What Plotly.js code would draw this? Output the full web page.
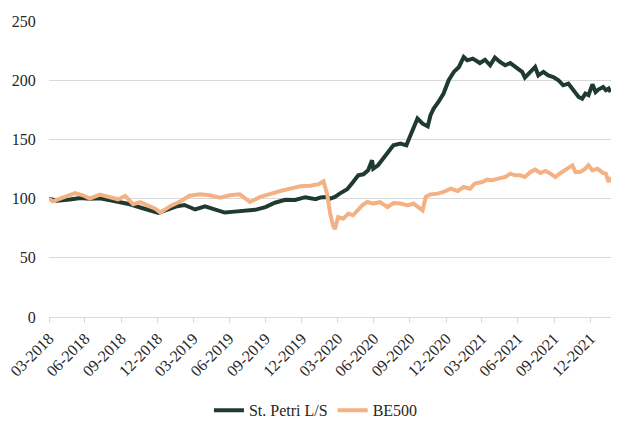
<!DOCTYPE html>
<html>
<head>
<meta charset="utf-8">
<script src="https://cdn.plot.ly/plotly-3.0.1.min.js"></script>
<style>
  html, body { margin: 0; padding: 0; background: #ffffff; }
  #chart { width: 618px; height: 423px; }
</style>
</head>
<body>
<div id="chart"></div>
<script>
// St. Petri L/S
var datesSP = [
  '2018-03-31','2018-04-20','2018-05-23','2018-06-18','2018-07-12','2018-08-07','2018-09-02','2018-09-28',
  '2018-10-22','2018-11-17','2018-12-12','2019-01-02','2019-01-20','2019-02-15','2019-03-09','2019-04-05',
  '2019-04-30','2019-05-25','2019-06-19','2019-07-14','2019-08-09','2019-09-04','2019-09-30','2019-10-24',
  '2019-11-19','2019-12-14','2020-01-09','2020-02-04','2020-02-17','2020-02-29','2020-03-12','2020-03-24',
  '2020-04-06','2020-04-24','2020-05-09','2020-05-22','2020-06-04','2020-06-16','2020-06-26','2020-06-29',
  '2020-07-11','2020-07-24','2020-08-06','2020-08-19','2020-09-06','2020-09-21','2020-09-26','2020-10-09',
  '2020-10-19','2020-11-01','2020-11-14','2020-11-21','2020-11-29','2020-12-11','2020-12-24','2021-01-06',
  '2021-01-19','2021-02-01','2021-02-13','2021-02-22','2021-03-08','2021-03-26','2021-04-08','2021-04-21',
  '2021-05-03','2021-05-16','2021-05-29','2021-06-11','2021-06-28','2021-07-11','2021-07-18','2021-08-01',
  '2021-08-13','2021-08-21','2021-09-03','2021-09-15','2021-09-28','2021-10-11','2021-10-23','2021-11-05',
  '2021-11-18','2021-12-01','2021-12-10','2021-12-18','2021-12-26','2022-01-05','2022-01-13','2022-01-20',
  '2022-02-01','2022-02-08','2022-02-15','2022-02-20'
];
var valuesSP = [
  100, 98.3, 99.2, 100.5, 99.8, 100.3, 98.6, 97.1,
  95.2, 92.5, 89.8, 88.0, 90.1, 93.3, 94.6, 90.8,
  93.5, 90.5, 88.2, 89.0, 89.8, 90.5, 92.8, 96.5,
  99.0, 98.8, 101.2, 99.5, 101.0, 101.4, 100.0, 101.4,
  104.4, 107.9, 114.0, 119.7, 120.5, 123.9, 132.4, 125.3,
  128.1, 133.8, 139.4, 145.0, 146.5, 145.0, 149.2, 160.5,
  167.6, 163.3, 161.0, 170.4, 176.0, 181.6, 188.7, 200.0,
  207.0, 211.2, 219.6, 216.8, 218.2, 214.5, 217.3, 212.6,
  219.1, 215.4, 212.6, 214.5, 209.8, 207.0, 202.2, 207.0,
  211.2, 204.1, 207.0, 204.1, 202.7, 200.0, 195.7, 197.1,
  191.5, 185.8, 184.4, 188.7, 187.3, 196.5, 190.0, 192.1,
  194.3, 191.5, 192.9, 190.0
];

// BE500
var datesBE = [
  '2018-03-31','2018-04-10','2018-04-28','2018-05-23','2018-06-05','2018-06-25','2018-07-12','2018-08-07',
  '2018-09-02','2018-09-22','2018-10-10','2018-10-30','2018-11-17','2018-12-07','2018-12-25','2019-01-07',
  '2019-02-02','2019-02-27','2019-03-22','2019-04-17','2019-05-12','2019-06-07','2019-07-02','2019-07-27',
  '2019-08-22','2019-09-17','2019-10-12','2019-11-07','2019-12-02','2019-12-27','2020-01-22','2020-02-12',
  '2020-02-24','2020-03-04','2020-03-12','2020-03-19','2020-03-24','2020-04-01','2020-04-14','2020-04-27',
  '2020-05-09','2020-05-22','2020-06-01','2020-06-14','2020-06-29','2020-07-16','2020-08-04','2020-08-19',
  '2020-09-06','2020-09-24','2020-10-09','2020-10-26','2020-11-01','2020-11-09','2020-11-21','2020-12-09',
  '2020-12-24','2021-01-11','2021-01-29','2021-02-13','2021-03-01','2021-03-13','2021-04-01','2021-04-13',
  '2021-04-26','2021-05-11','2021-05-29','2021-06-11','2021-06-23','2021-07-06','2021-07-18','2021-08-01',
  '2021-08-13','2021-08-26','2021-09-08','2021-09-21','2021-10-03','2021-10-16','2021-11-03','2021-11-15',
  '2021-11-23','2021-12-05','2021-12-18','2021-12-26','2022-01-05','2022-01-18','2022-02-01','2022-02-08',
  '2022-02-15','2022-02-20'
];
var valuesBE = [
  100, 97.7, 100.0, 102.8, 104.7, 102.8, 100.0, 103.4,
  101.4, 99.4, 102.2, 95.2, 97.0, 94.3, 91.5, 88.2,
  93.8, 97.7, 102.4, 103.6, 102.8, 100.8, 102.8, 103.6,
  97.1, 101.4, 104.2, 106.4, 108.4, 110.4, 110.8, 112.2,
  114.6, 104.2, 87.3, 77.4, 74.2, 84.5, 83.1, 87.3,
  85.9, 90.1, 94.3, 97.1, 95.8, 97.1, 92.9, 96.3,
  95.8, 94.3, 95.8, 91.6, 90.1, 101.4, 103.6, 104.2,
  105.6, 108.4, 106.4, 109.8, 108.4, 112.7, 114.0, 116.0,
  115.5, 116.9, 118.2, 121.1, 119.7, 119.7, 118.2, 122.5,
  124.5, 121.6, 123.3, 121.1, 118.2, 121.6, 125.3, 128.1,
  122.5, 122.5, 125.3, 128.1, 123.9, 125.3, 121.6, 121.1,
  114.0, 118.2
];

var tickDates = ['2018-03-31','2018-06-30','2018-09-30','2018-12-31','2019-03-31','2019-06-30','2019-09-30','2019-12-31',
                 '2020-03-31','2020-06-30','2020-09-30','2020-12-31','2021-03-31','2021-06-30','2021-09-30','2021-12-31'];
var tickLabels = ['03-2018','06-2018','09-2018','12-2018','03-2019','06-2019','09-2019','12-2019',
                  '03-2020','06-2020','09-2020','12-2020','03-2021','06-2021','09-2021','12-2021'];
var seriesNames = ['St. Petri L/S', 'BE500'];

var font = '"Liberation Serif", serif';

var traces = [
  { x: datesSP, y: valuesSP, name: seriesNames[0], type: 'scatter', mode: 'lines',
    line: { color: '#1f3b30', width: 4 } },
  { x: datesBE, y: valuesBE, name: seriesNames[1], type: 'scatter', mode: 'lines',
    line: { color: '#f4b183', width: 4 } }
];

var layout = {
  width: 618, height: 423,
  margin: { l: 49, r: 7, t: 21, b: 106, autoexpand: false },
  paper_bgcolor: '#ffffff', plot_bgcolor: '#ffffff',
  font: { family: font, size: 16, color: '#262626' },
  showlegend: true,
  legend: { orientation: 'h', x: 0.475, xanchor: 'center', y: -0.315, yanchor: 'middle',
            font: { family: font, size: 16, color: '#262626' }, itemwidth: 30, tracegroupgap: 0 },
  xaxis: {
    type: 'date', automargin: false,
    range: ['2018-03-31', '2022-02-21'],
    tickmode: 'array', tickvals: tickDates, ticktext: tickLabels,
    tickangle: -45,
    ticks: 'outside', ticklen: 5, tickcolor: '#d9d9d9', tickwidth: 1,
    showline: true, linecolor: '#d9d9d9', linewidth: 1,
    showgrid: false, zeroline: false,
    tickfont: { family: font, size: 16, color: '#262626' }
  },
  yaxis: {
    automargin: false,
    range: [0, 250], tickmode: 'array', tickvals: [0, 50, 100, 150, 200, 250],
    ticktext: ['0', '50', '100', '150', '200', '250'],
    showgrid: true, gridcolor: '#d9d9d9', gridwidth: 1,
    zeroline: false, showline: false,
    ticks: 'outside', ticklen: 9, tickcolor: 'rgba(0,0,0,0)',
    tickfont: { family: font, size: 16, color: '#262626' }
  }
};

Plotly.newPlot('chart', traces, layout, { displayModeBar: false, staticPlot: true });
</script>
</body>
</html>
